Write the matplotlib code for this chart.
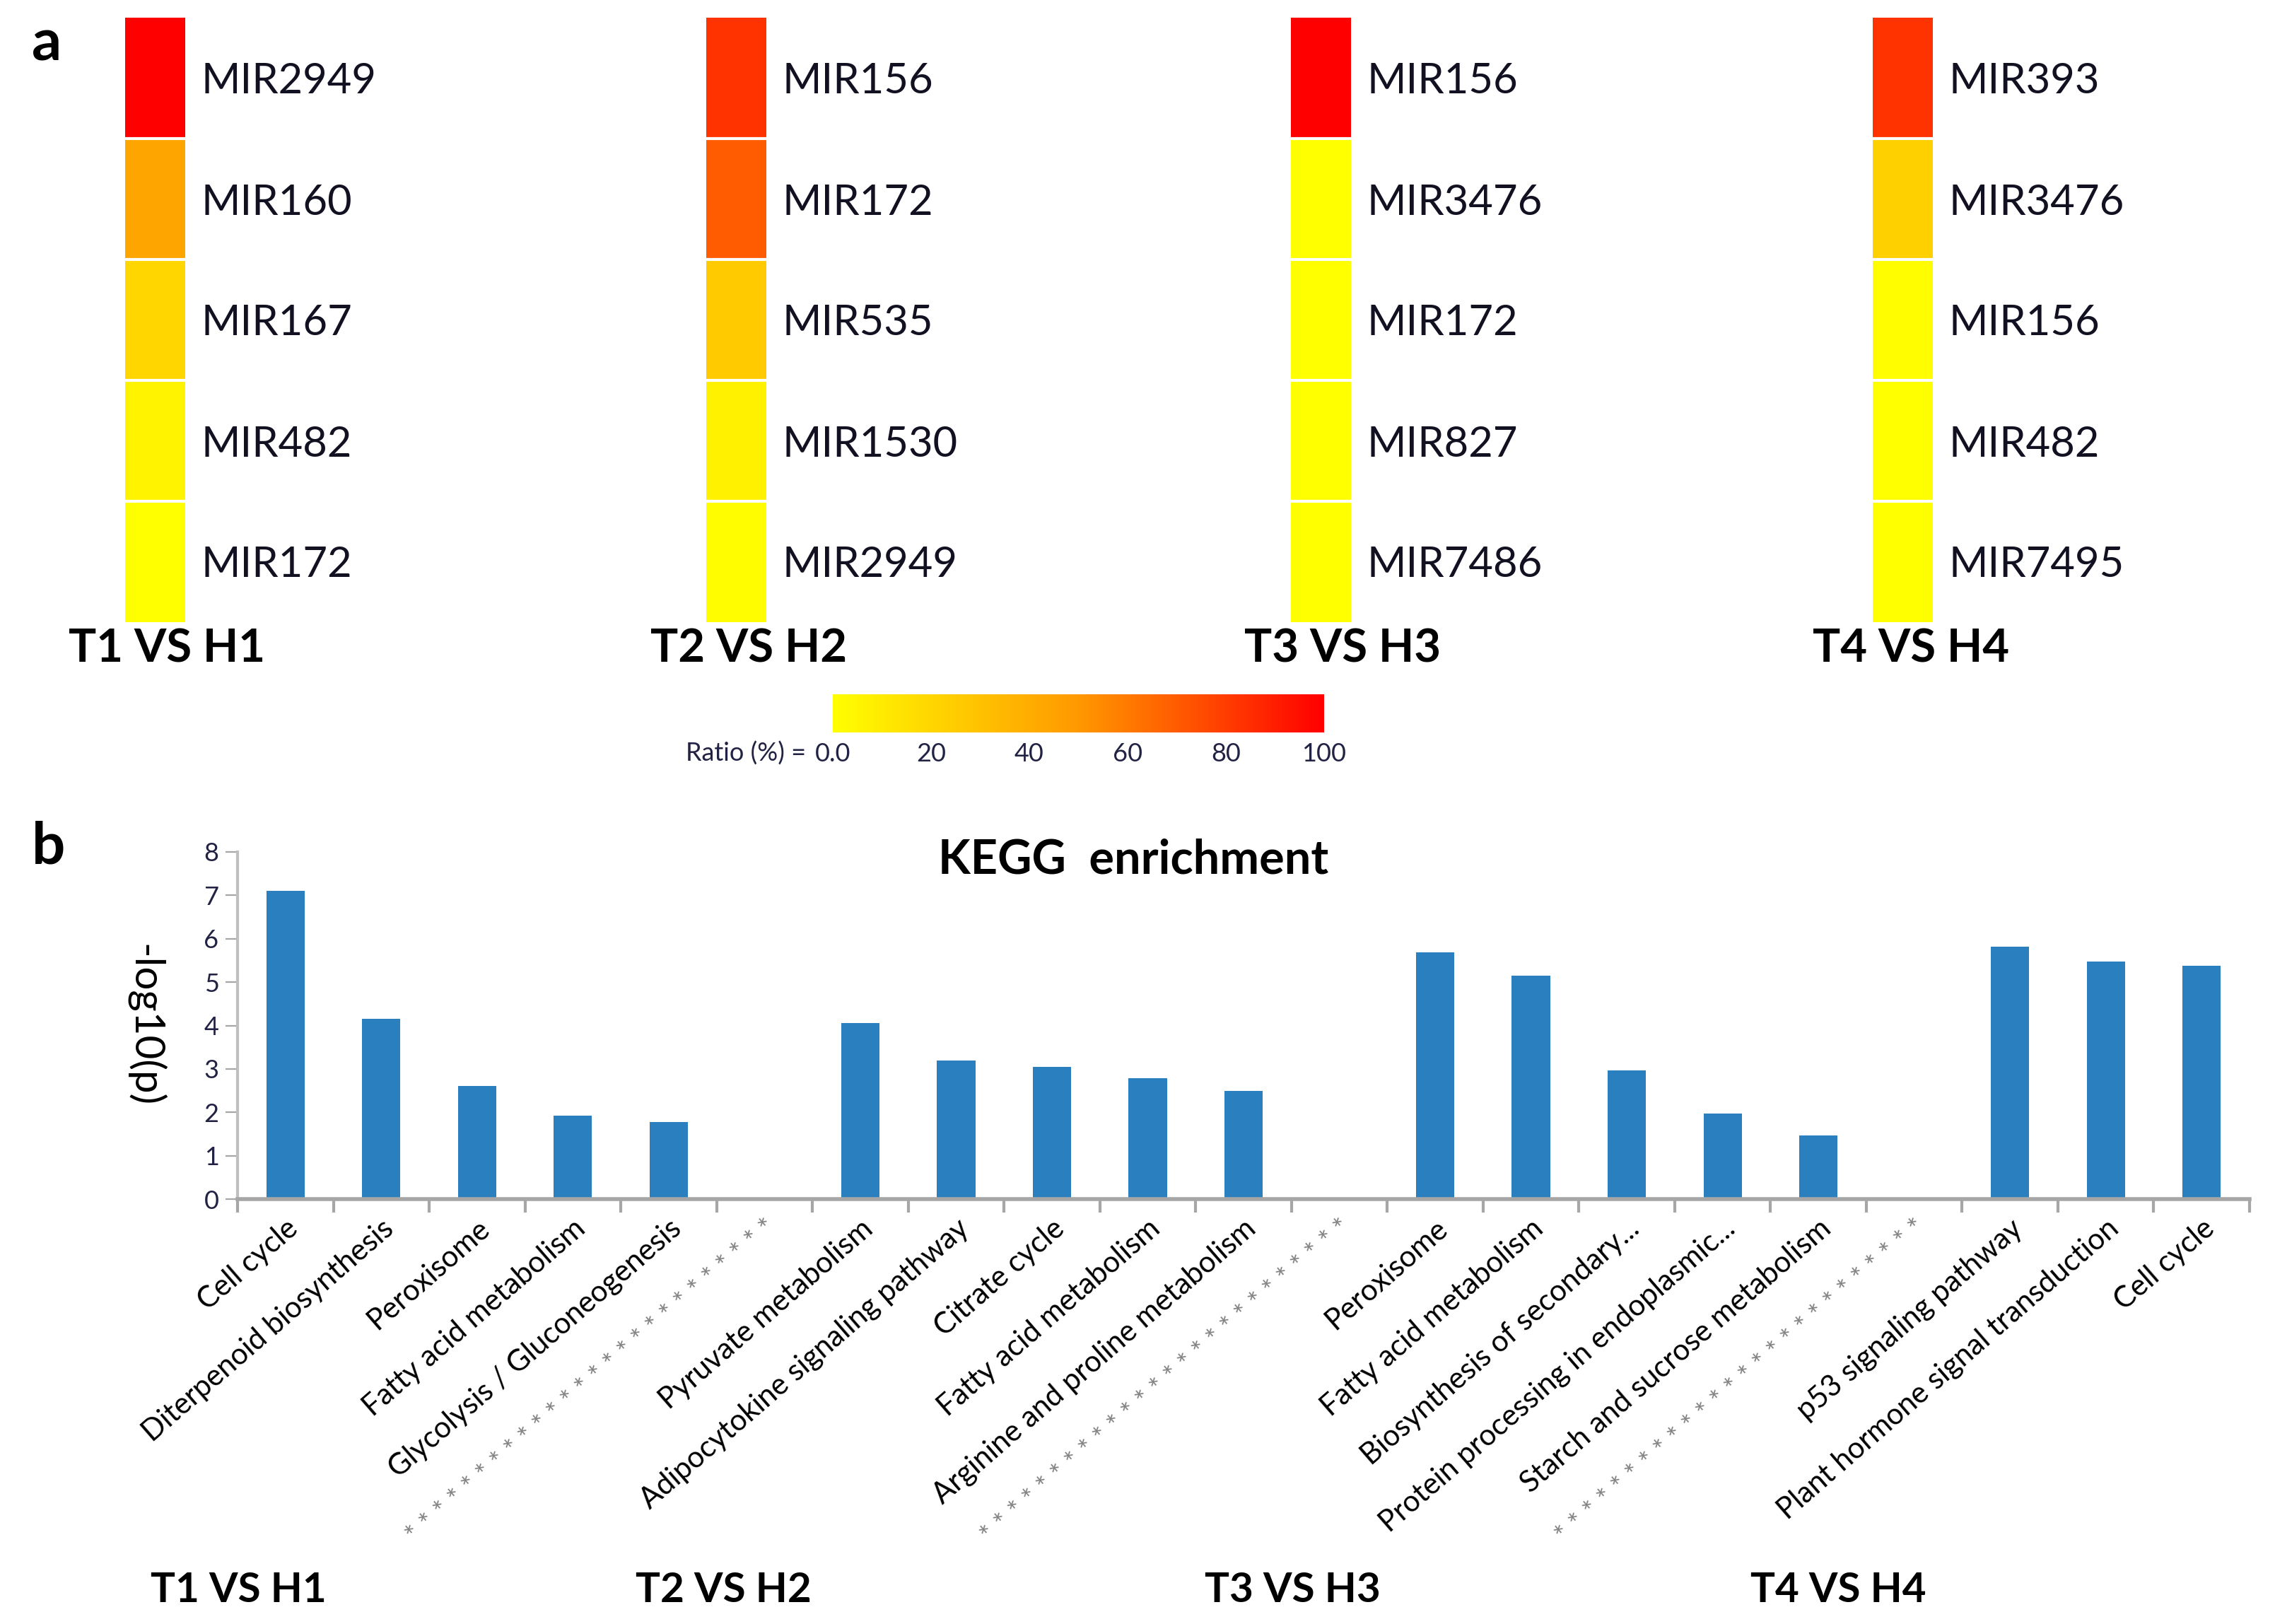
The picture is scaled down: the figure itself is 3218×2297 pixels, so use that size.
import numpy as np
import matplotlib
matplotlib.use("Agg")
import matplotlib.pyplot as plt
from matplotlib.colors import LinearSegmentedColormap

plt.rcParams['font.family'] = ['Lato', 'DejaVu Sans']

# panel a: top 5 miRNAs per comparison, ratio (%)
groups = ['T1 VS H1', 'T2 VS H2', 'T3 VS H3', 'T4 VS H4']
mirnas = [
    ['MIR2949', 'MIR160', 'MIR167', 'MIR482', 'MIR172'],
    ['MIR156', 'MIR172', 'MIR535', 'MIR1530', 'MIR2949'],
    ['MIR156', 'MIR3476', 'MIR172', 'MIR827', 'MIR7486'],
    ['MIR393', 'MIR3476', 'MIR156', 'MIR482', 'MIR7495'],
]
ratios = [
    [100, 44, 20, 6, 0],
    [83, 70, 25, 7, 1],
    [100, 0, 0, 0, 0],
    [83, 23, 1, 0, 0],
]
cbar_ticks = [0, 20, 40, 60, 80, 100]
cbar_labels = ['0.0', '20', '40', '60', '80', '100']

# panel b: KEGG enrichment
kegg_terms = [
    ['Cell cycle', 'Diterpenoid biosynthesis', 'Peroxisome', 'Fatty acid metabolism',
     'Glycolysis / Gluconeogenesis'],
    ['Pyruvate metabolism', 'Adipocytokine signaling pathway', 'Citrate cycle',
     'Fatty acid metabolism', 'Arginine and proline metabolism'],
    ['Peroxisome', 'Fatty acid metabolism', 'Biosynthesis of secondary...',
     'Protein processing in endoplasmic...', 'Starch and sucrose metabolism'],
    ['p53 signaling pathway', 'Plant hormone signal transduction', 'Cell cycle'],
]
kegg_vals = [
    [7.1, 4.15, 2.6, 1.93, 1.78],
    [4.05, 3.2, 3.05, 2.78, 2.5],
    [5.68, 5.15, 2.97, 1.97, 1.47],
    [5.82, 5.47, 5.37],
]
sep = ' '.join(['*'] * 26)

W, H = 3218, 2297
fig = plt.figure(figsize=(W / 200, H / 200), dpi=200)

cmap = LinearSegmentedColormap.from_list('ry', ['#FFFF00', '#FF9900', '#FF0000'])

col_left = [177, 999, 1826, 2649]
grp_x = [97, 920, 1760, 2564]
for k in range(4):
    ax = fig.add_axes([col_left[k] / W, 1 - 880 / H, 85 / W, 855 / H])
    data = np.array(ratios[k]).reshape(-1, 1)
    ax.imshow(data, cmap=cmap, vmin=0, vmax=100, aspect='auto')
    for i in range(1, 5):
        ax.axhline(i - 0.5, color='white', lw=1.5)
    ax.set_xticks([])
    ax.yaxis.tick_right()
    ax.set_yticks(range(5))
    ax.set_yticklabels(mirnas[k], fontsize=21.5, color='#111122')
    ax.tick_params(axis='y', length=0, pad=8)
    for s in ax.spines.values():
        s.set_visible(False)
    fig.text(grp_x[k] / W, 1 - 918 / H, groups[k], fontsize=23.5, fontweight='bold',
             ha='left', va='center')

fig.text(45 / W, 1 - 62 / H, 'a', fontsize=30, fontweight='bold', va='center')

# colorbar
cax = fig.add_axes([1178 / W, 1 - 1036 / H, 695 / W, 54 / H])
grad = np.linspace(0, 100, 256).reshape(1, -1)
cax.imshow(grad, cmap=cmap, vmin=0, vmax=100, aspect='auto', extent=[0, 100, 0, 1])
cax.set_yticks([])
cax.set_xticks(cbar_ticks)
cax.set_xticklabels(cbar_labels, fontsize=13, color='#222244')
cax.tick_params(axis='x', length=0, pad=5)
for s in cax.spines.values():
    s.set_visible(False)
cax.text(-5.5, -0.55, 'Ratio (%) =', fontsize=13, color='#222244', ha='right', va='center',
         transform=cax.transData)

# panel b
labels = []
vals = []
is_sep = []
for g in range(4):
    labels += kegg_terms[g]
    vals += kegg_vals[g]
    is_sep += [False] * len(kegg_terms[g])
    if g < 3:
        labels.append(sep)
        vals.append(0)
        is_sep.append(True)
x = np.arange(len(labels))

bx = fig.add_axes([336 / W, 1 - 1696 / H, (3182 - 336) / W, (1696 - 1205) / H])
bx.bar(x, vals, width=0.4, color='#2A80BF')
bx.set_xlim(-0.5, len(labels) - 0.5)
bx.set_ylim(0, 8)
bx.set_yticks(range(9))
bx.tick_params(axis='y', labelsize=13, length=6, color='#A6A6A6', labelcolor='#222244')
bx.set_xticks(x)
tl = bx.set_xticklabels(labels, rotation=41, ha='right', rotation_mode='anchor', fontsize=15)
for t, s in zip(tl, is_sep):
    if s:
        t.set_color('#808080')
        t.set_fontsize(14)
bx.tick_params(axis='x', which='major', length=0, pad=8)
bx.set_xticks(np.arange(-0.5, len(labels), 1), minor=True)
bx.tick_params(axis='x', which='minor', length=7, color='#A6A6A6', width=1.5)
for s in ['top', 'right']:
    bx.spines[s].set_visible(False)
bx.spines['left'].set_color('#BFBFBF')
bx.spines['bottom'].set_color('#A6A6A6')
bx.spines['left'].set_linewidth(1.5)
bx.spines['bottom'].set_linewidth(2)
bx.set_ylabel('-log10(p)', rotation=-90, fontsize=21, labelpad=40)

fig.text(1603 / W, 1 - 1217 / H, 'KEGG  enrichment', fontsize=24, fontweight='bold',
         ha='center', va='center')
fig.text(45 / W, 1 - 1198 / H, 'b', fontsize=30, fontweight='bold', va='center')

bot_x = [337, 1023, 1828, 2600]
for k in range(4):
    fig.text(bot_x[k] / W, 1 - 2249 / H, groups[k], fontsize=21, fontweight='bold',
             ha='center', va='center')

fig.savefig('out.png', dpi=200)
